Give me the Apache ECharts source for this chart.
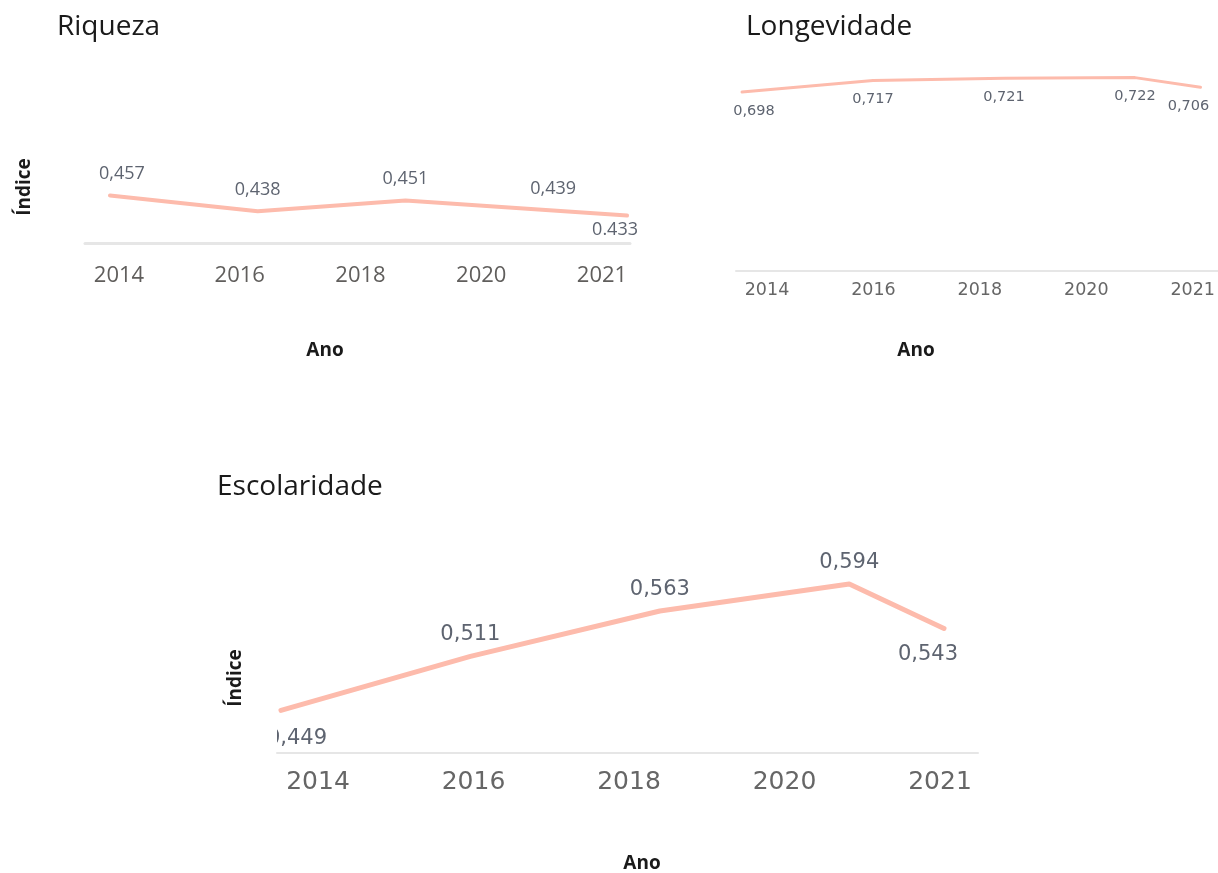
<!DOCTYPE html>
<html>
<head>
<meta charset="utf-8">
<script src="https://cdn.jsdelivr.net/npm/echarts@6/dist/echarts.min.js"></script>
<style>
html,body{margin:0;padding:0;background:#fff;}
#chart{width:1218px;height:873px;}
</style>
</head>
<body>
<div id="chart"></div>
<script>
// ---- data ----
const years = [2014, 2016, 2018, 2020, 2021];
const yearLabels = ['2014', '2016', '2018', '2020', '2021'];
const riqueza = [0.457, 0.438, 0.451, 0.439, 0.433];
const riquezaText = ['0,457', '0,438', '0,451', '0,439', '0.433'];
const longevidade = [0.698, 0.717, 0.721, 0.722, 0.706];
const longevidadeText = ['0,698', '0,717', '0,721', '0,722', '0,706'];
const escolaridade = [0.449, 0.511, 0.563, 0.594, 0.543];
const escolaridadeText = ['0,449', '0,511', '0,563', '0,594', '0,543'];
const titles = ['Riqueza', 'Longevidade', 'Escolaridade'];
const yName = 'Índice';
const xName = 'Ano';

// ---- styling ----
const LINE = '#FDBBAC';
const AXIS = '#E6E6E6';
const TICK = '#605E5C';
const VAL = '#5E6470';

const panels = [
  { // Riqueza
    plot: {left: 85, top: 159.7, width: 545, height: 83.3}, xmin: 2013.662, xmax: 2021.040, ymin: 0.4, ymax: 0.5,
    lab: {left: 119, top: 200, width: 483, height: 57}, labMargin: 8,
    tickFont: {fontFamily: 'Open Sans', fontSize: 22, color: TICK},
    valFont: {fontFamily: 'Open Sans', fontSize: 18, color: VAL},
    lineWidth: 4, axisWidth: 3,
    values: riqueza, texts: riquezaText,
    place: [['top', 12, 12], ['top', 12, 0], ['top', 12, 0], ['top', 12, 0], ['bottom', 4.5, -12]]
  },
  { // Longevidade
    plot: {left: 736, top: 60.8, width: 482, height: 210.2}, xmin: 2013.908, xmax: 2021.267, ymin: 0.4, ymax: 0.75,
    lab: {left: 767, top: 220, width: 426, height: 53}, labMargin: 8,
    tickFont: {fontFamily: 'DejaVu Sans', fontSize: 17.5, color: '#666666'},
    valFont: {fontFamily: 'DejaVu Sans', fontSize: 14.5, color: VAL},
    lineWidth: 3, axisWidth: 2,
    values: longevidade, texts: longevidadeText,
    place: [['bottom', 11, 12], ['bottom', 11, 0], ['bottom', 11, 0], ['bottom', 11, 0], ['bottom', 11, -12]]
  },
  { // Escolaridade
    plot: {left: 277, top: 491.7, width: 701, height: 261.3}, xmin: 2013.958, xmax: 2021.359, ymin: 0.4, ymax: 0.7,
    lab: {left: 318, top: 700, width: 622, height: 61}, labMargin: 8.5,
    tickFont: {fontFamily: 'DejaVu Sans', fontSize: 25, color: '#666666'},
    valFont: {fontFamily: 'DejaVu Sans', fontSize: 21, color: VAL},
    lineWidth: 5, axisWidth: 2,
    values: escolaridade, texts: escolaridadeText,
    place: [['bottom', 17, 16], ['top', 10.5, 0], ['top', 10.5, 0], ['top', 10.5, 0], ['bottom', 15, -16]]
  }
];

const grid = [], xAxis = [], yAxis = [], series = [];
panels.forEach((p, k) => {
  const gPlot = grid.length;
  grid.push(Object.assign({containLabel: false}, p.plot));
  const gLab = grid.length;
  grid.push(Object.assign({containLabel: false}, p.lab));

  // plot axes (value x, value y)
  xAxis.push({gridIndex: gPlot, type: 'value', min: p.xmin, max: p.xmax,
    axisLine: {show: true, onZero: false, lineStyle: {color: AXIS, width: p.axisWidth}},
    axisTick: {show: false}, axisLabel: {show: false}, splitLine: {show: false}});
  yAxis.push({gridIndex: gPlot, type: 'value', min: p.ymin, max: p.ymax, show: false, splitLine: {show: false}});
  // label axes (category)
  xAxis.push({gridIndex: gLab, type: 'category', data: yearLabels, boundaryGap: false,
    axisLine: {show: false}, axisTick: {show: false}, splitLine: {show: false},
    axisLabel: Object.assign({show: true, interval: 0, margin: p.labMargin}, p.tickFont)});
  yAxis.push({gridIndex: gLab, type: 'value', show: false, splitLine: {show: false}});

  const xi = xAxis.length - 2, yi = yAxis.length - 2;
  series.push({
    type: 'line', xAxisIndex: xi, yAxisIndex: yi,
    data: years.map((yr, i) => ({
      value: [yr, p.values[i]],
      label: {position: p.place[i][0], distance: p.place[i][1], offset: [p.place[i][2], 0],
        formatter: () => p.texts[i]}
    })),
    symbol: 'circle', symbolSize: 1, showSymbol: true,
    itemStyle: {color: 'rgba(255,255,255,0)', borderWidth: 0},
    lineStyle: {color: LINE, width: p.lineWidth, cap: 'round', join: 'round'},
    label: Object.assign({show: true}, p.valFont),
    emphasis: {disabled: true},
    silent: true, animation: false, clip: true
  });
});

function txt(text, x, y, size, family, weight, opts) {
  return Object.assign({type: 'text', x: x, y: y, z: 100,
    style: {text: text, fontSize: size, fontFamily: family, fontWeight: weight, fill: '#1a1a1a',
      align: (opts && opts.align) || 'left', verticalAlign: 'middle'}}, opts && opts.rot ? {rotation: Math.PI / 2} : {});
}

const graphic = [
  // clip mask for the partially hidden first label of Escolaridade
  {type: 'rect', z: 90, shape: {x: 250, y: 726, width: 27, height: 24}, style: {fill: '#ffffff'}},
  txt(titles[0], 57, 27, 28, 'Open Sans', 'normal'),
  txt(titles[1], 746, 27, 28, 'Open Sans', 'normal'),
  txt(titles[2], 217, 487, 28, 'Open Sans', 'normal'),
  txt(yName, 25, 187, 19, 'Open Sans', 'bold', {align: 'center', rot: true}),
  txt(yName, 236, 678, 19, 'Open Sans', 'bold', {align: 'center', rot: true}),
  txt(xName, 325, 351, 19, 'Open Sans', 'bold', {align: 'center'}),
  txt(xName, 916, 351, 19, 'Open Sans', 'bold', {align: 'center'}),
  txt(xName, 642, 864, 19, 'Open Sans', 'bold', {align: 'center'})
];

const chart = echarts.init(document.getElementById('chart'), null, {renderer: 'canvas'});
chart.setOption({
  animation: false,
  backgroundColor: '#ffffff',
  grid: grid, xAxis: xAxis, yAxis: yAxis, series: series, graphic: graphic
});
</script>
</body>
</html>
